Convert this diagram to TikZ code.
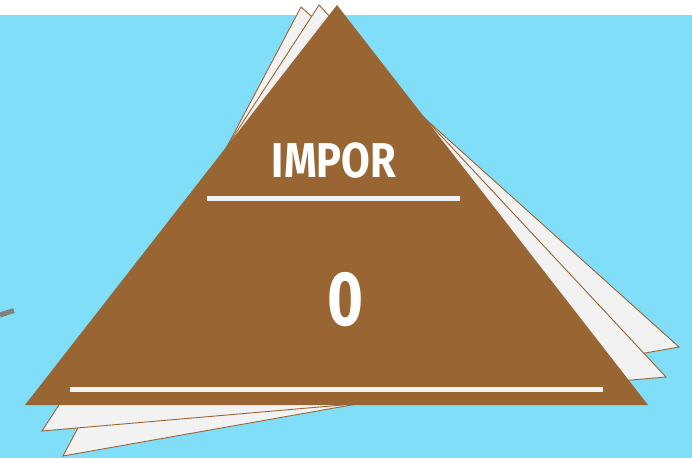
\documentclass[tikz,border=0pt]{standalone}
\usepackage{fontspec}
\setmainfont{Fira Sans}
\usepackage{graphicx}
\definecolor{skyfill}{HTML}{80DEF8}
\definecolor{pyrfill}{HTML}{996633}
\definecolor{sheetfill}{HTML}{F2F2F2}
\definecolor{barcol}{HTML}{808080}
\tikzset{
  sheet/.style={fill=sheetfill, draw=pyrfill, line width=0.9pt, line join=miter},
  pyramid/.style={fill=pyrfill},
  rulebar/.style={draw=sheetfill, line width=5pt},
  stub/.style={draw=barcol, line width=5pt},
  title/.style={text=white, font=\bfseries\fontsize{49}{50}\selectfont, inner sep=0pt, anchor=base},
  count/.style={text=white, font=\bfseries\fontsize{77}{78}\selectfont, inner sep=0pt, anchor=base},
}

\begin{document}
\begin{tikzpicture}[x=1pt, y=-1pt]
  \useasboundingbox (0,0) rectangle (692,458);
  % backdrop
  \fill[white] (0,0) rectangle (692,15);
  \fill[skyfill] (0,15) rectangle (692,458);
  \draw[stub] (0,315) -- (14,310.5);
  % stacked sheets behind
  \draw[sheet] (301,7) -- (679,347) -- (63,456) -- cycle;
  \draw[sheet] (319,5) -- (666,377) -- (42,431) -- cycle;
  % front pyramid
  \fill[pyramid] (337,5) -- (648,405) -- (25,405) -- cycle;
  \node[title] (head) at (334,177) {\scalebox{0.85}[1]{IMPOR}};
  \draw[rulebar] (207,198) -- (460,198);
  \node[count] (score) at (345.5,325) {\scalebox{0.8}[1]{0}};
  \draw[rulebar] (70,389.5) -- (603,389.5);
\end{tikzpicture}
\end{document}
